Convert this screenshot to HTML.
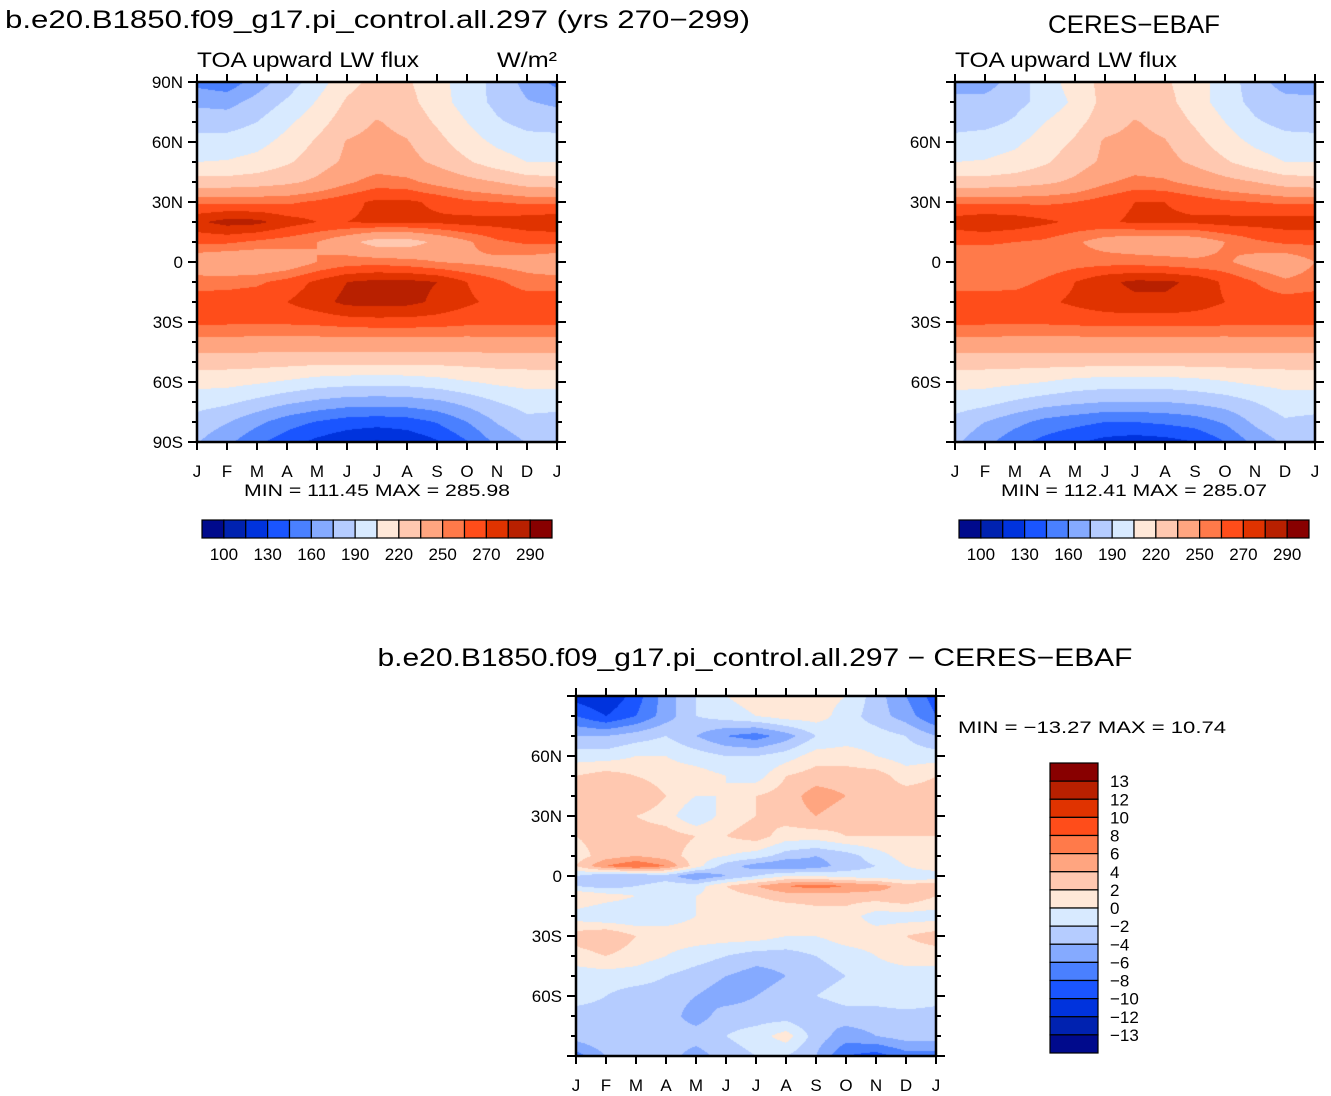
<!DOCTYPE html>
<html><head><meta charset="utf-8">
<style>
html,body{margin:0;padding:0;background:#fff;}
#wrap{position:relative;width:1331px;height:1096px;overflow:hidden;font-family:"Liberation Sans",sans-serif;}
canvas{position:absolute;}
svg{position:absolute;left:0;top:0;}
</style></head>
<body>
<div id="wrap">
<canvas id="c1" width="360" height="360" style="left:197px;top:82px"></canvas>
<canvas id="c2" width="360" height="360" style="left:955px;top:82px"></canvas>
<canvas id="c3" width="360" height="360" style="left:576px;top:696px"></canvas>
<svg id="s" width="1331" height="1096"></svg>
</div>
<script>
const months = ["J","F","M","A","M","J","J","A","S","O","N","D","J"];
const lats10 = [90,80,70,60,50,40,30,20,10,0,-10,-20,-30,-40,-50,-60,-70,-80,-90];
const fluxLevels = [100,115,130,145,160,175,190,205,220,235,250,260,270,280,290];
const fluxLabels = ["100","130","160","190","220","250","270","290"];
const diffLevels = [-13,-12,-10,-8,-6,-4,-2,0,2,4,6,8,10,12,13];
const diffLabels = ["13","12","10","8","6","4","2","0","\u22122","\u22124","\u22126","\u22128","\u221210","\u221212","\u221213"];
const palette = ["#000a8c","#0022b0","#0033dd","#1a55ff","#4a80ff","#85aaff","#b5ccff","#d8eaff","#ffe8d8","#ffc8b0","#ffa580","#ff7a4a","#ff4d1a","#e03300","#b82000","#880000"];
const modelValues = [
[155,150,168,182,198,215,225,222,210,198,185,170,155],
[172,170,180,192,206,222,228,225,212,198,186,176,172],
[183,183,190,202,214,228,236,230,218,205,192,185,183],
[196,196,200,210,222,236,240,236,225,212,202,196,196],
[205,206,210,218,228,238,243,240,232,222,212,205,205],
[226,226,228,232,238,248,255,253,246,240,235,228,226],
[258,258,258,258,262,267,272,272,268,262,260,258,258],
[278,284,283,275,270,270,272,272,272,274,274,276,278],
[262,262,258,255,250,240,228,228,238,248,258,262,262],
[240,236,236,240,250,255,256,254,250,248,246,244,240],
[255,256,258,264,272,280,283,283,280,270,262,255,255],
[266,266,267,270,276,283,284,283,278,272,267,266,266],
[262,262,262,262,263,265,266,266,265,263,262,262,262],
[246,246,245,245,245,245,245,245,245,245,246,246,246],
[226,226,226,225,224,224,224,224,224,225,226,226,226],
[210,210,207,203,198,196,195,196,199,204,208,210,210],
[196,193,186,178,172,168,167,168,172,180,190,196,196],
[184,176,164,152,144,138,136,138,146,160,176,186,184],
[176,164,148,136,126,118,113,118,128,144,164,176,176]];
const ceresValues = [
[168,168,182,198,212,225,225,222,212,198,182,168,165],
[180,180,185,195,208,225,228,225,212,198,185,180,180],
[183,185,192,205,215,228,236,230,218,205,192,185,183],
[196,198,202,212,222,237,240,236,225,212,202,196,196],
[205,206,210,218,228,238,242,240,232,222,212,205,205],
[226,226,228,232,238,248,254,252,246,240,235,228,226],
[258,258,258,258,260,265,270,270,266,262,260,258,258],
[275,278,276,272,268,268,272,272,272,274,274,275,275],
[262,262,260,258,252,244,240,240,242,250,258,262,262],
[250,250,250,252,255,256,256,254,252,252,244,240,250],
[255,255,256,262,270,278,282,282,278,268,260,252,255],
[266,266,266,268,272,276,278,278,275,270,266,265,266],
[262,262,262,262,263,264,264,264,264,263,262,262,262],
[246,246,245,245,245,245,245,245,245,245,246,246,246],
[226,226,226,226,226,226,226,226,226,226,226,226,226],
[210,210,208,205,200,198,198,198,200,204,208,210,210],
[198,195,188,182,178,175,175,175,178,182,190,198,198],
[185,175,165,155,150,145,145,148,152,162,178,188,185],
[178,165,150,140,132,125,122,124,130,145,165,178,178]];
const diffLats = [90,80,70,60,50,40,30,20,10,5,0,-5,-10,-20,-30,-40,-50,-60,-70,-80,-90];
const diffValues = [
[-11,-12,-9,-5,-2,0,1,2,1,0,-3,-6,-9],
[-8,-10,-8,-5,-2,-1,0,1,1,-1,-3,-5,-8],
[-4,-4,-3,-2,-4,-6,-7,-5,-2,-1,-1,-2,-4],
[-1,-1,0,0,-1,-2,-2,-1,1,1,0,-1,-1],
[2,3,2,1,1,0,-1,2,3,3,3,1,2],
[3,4,4,2,0,0,2,3,5,4,3,3,3],
[3,3,2,1,-2,1,2,3,4,3,3,2,3],
[2,3,3,3,2,2,3,1,1,2,2,2,2],
[1,3,4,3,1,0,-1,-3,-4,-3,-1,1,1],
[2,6,8,6,1,-3,-5,-6,-5,-3,-2,0,2],
[-2,-4,-4,-3,-6,-4,-2,0,0,-1,-1,-2,-2],
[-2,-3,-2,-1,-1,2,4,6,7,6,5,3,4],
[2,1,0,0,0,1,2,3,3,3,3,4,2],
[-1,-2,-2,-1,0,1,0,0,1,1,-1,-1,-1],
[3,4,2,1,1,1,1,0,0,1,1,2,3],
[1,2,1,0,-1,-2,-3,-3,-2,-1,0,1,1],
[-1,-1,-1,-2,-3,-4,-5,-4,-3,-2,-1,-1,-1],
[-1,-2,-3,-3,-4,-5,-4,-3,-2,-1,-1,0,-1],
[-3,-3,-2,-3,-5,-3,-3,-3,-4,-3,-3,-3,-3],
[-3,-2,-3,-3,-3,-2,-1,1,-3,-5,-4,-3,-3],
[-7,-4,-3,-3,-5,-3,-2,-2,-4,-8,-9,-7,-7]];

function hex(c){return [parseInt(c.slice(1,3),16),parseInt(c.slice(3,5),16),parseInt(c.slice(5,7),16)];}
const rgb = palette.map(hex);
function levelIndex(v,levels){let i=0;while(i<levels.length&&v>=levels[i])i++;return i;}
function sample(vals,lats,mx,lat){
  let j=Math.min(11,Math.floor(mx)),fx=mx-j;
  let i=0;while(i<lats.length-2&&lat<lats[i+1])i++;
  let fy=(lats[i]-lat)/(lats[i]-lats[i+1]);fy=Math.max(0,Math.min(1,fy));
  const a=vals[i][j],b=vals[i][j+1],c=vals[i+1][j],d=vals[i+1][j+1];
  return (a*(1-fx)+b*fx)*(1-fy)+(c*(1-fx)+d*fx)*fy;
}
function drawField(id,vals,lats,levels){
  const cv=document.getElementById(id),ctx=cv.getContext('2d');
  const W=cv.width,H=cv.height,img=ctx.createImageData(W,H);
  for(let y=0;y<H;y++){const lat=90-(y+0.5)/H*180;
    for(let x=0;x<W;x++){const mx=(x+0.5)/W*12;
      const col=rgb[levelIndex(sample(vals,lats,mx,lat),levels)];
      const k=(y*W+x)*4;img.data[k]=col[0];img.data[k+1]=col[1];img.data[k+2]=col[2];img.data[k+3]=255;}}
  ctx.putImageData(img,0,0);
}
drawField('c1',modelValues,lats10,fluxLevels);
drawField('c2',ceresValues,lats10,fluxLevels);
drawField('c3',diffValues,diffLats,diffLevels);

const NS='http://www.w3.org/2000/svg';
const svg=document.getElementById('s');
function el(tag,attrs,parent){const e=document.createElementNS(NS,tag);for(const k in attrs)e.setAttribute(k,attrs[k]);(parent||svg).appendChild(e);return e;}
function txt(x,y,s,size,anchor,name,len){const t=el('text',{x:x,y:y,'font-size':size,'text-anchor':anchor||'start','font-family':'Liberation Sans, sans-serif',fill:'#000'});
  if(len){t.setAttribute('textLength',len);t.setAttribute('lengthAdjust','spacingAndGlyphs');}
  t.textContent=s;
  
  
  return t;}
function axes(x0,y0,showPoles,labY,name){
  const g=el('g',{});
  
  
  const xs=m=>x0+m*30, ys=l=>y0+(90-l)*2;
  for(let l=-90;l<=90;l+=10){const maj=l%30===0;const L=maj?9:5;
    el('line',{x1:x0-L,x2:x0,y1:ys(l),y2:ys(l),stroke:'#000','stroke-width':2},g);
    el('line',{x1:x0+360,x2:x0+360+L,y1:ys(l),y2:ys(l),stroke:'#000','stroke-width':2},g);
    if(maj&&(showPoles||Math.abs(l)<90)){const s=l===0?'0':(Math.abs(l)+(l>0?'N':'S'));txt(x0-14,ys(l)+6,s,17,'end','y-tick-label',null);}
  }
  months.forEach((m,i)=>{
    el('line',{x1:xs(i),x2:xs(i),y1:y0-8,y2:y0,stroke:'#000','stroke-width':2},g);
    el('line',{x1:xs(i),x2:xs(i),y1:y0+360,y2:y0+368,stroke:'#000','stroke-width':2},g);
    txt(xs(i),labY,m,17,'middle','x-tick-label',null);
  });
  el('rect',{x:x0,y:y0,width:360,height:360,fill:'none',stroke:'#000','stroke-width':2.5},g);
}
axes(197,82,true,477,'model-axes');
axes(955,82,false,477,'ceres-axes');
axes(576,696,false,1091,'diff-axes');

txt(5,28,'b.e20.B1850.f09_g17.pi_control.all.297 (yrs 270\u2212299)',25,'start','model-title',745);
txt(197,67,'TOA upward LW flux',21,'start','model-subtitle',222);
txt(557,67,'W/m\u00b2',21,'end','units-label',60);
txt(1134,33,'CERES\u2212EBAF',25,'middle','ceres-title',172);
txt(955,67,'TOA upward LW flux',21,'start','ceres-subtitle',222);
txt(377,496,'MIN = 111.45 MAX = 285.98',17,'middle','model-minmax',266);
txt(1134,496,'MIN = 112.41 MAX = 285.07',17,'middle','ceres-minmax',266);
txt(755,666,'b.e20.B1850.f09_g17.pi_control.all.297 \u2212 CERES\u2212EBAF',25,'middle','diff-title',755);
txt(958,733,'MIN = \u221213.27 MAX =  10.74',17,'start','diff-minmax',268);

function hbar(x0,y0,w,h,name){
  const g=el('g',{});
  
  
  const bw=w/palette.length;
  palette.forEach((c,i)=>{const r=el('rect',{x:x0+i*bw,y:y0,width:bw,height:h,fill:c,stroke:'#000','stroke-width':1.2},g);
    });
  fluxLabels.forEach((s,k)=>{txt(x0+(2*k+1)*bw,y0+h+22,s,17,'middle','colorbar-label',null);});
}
hbar(202,520,350,18,'model-colorbar');
hbar(959,520,350,18,'ceres-colorbar');
(function(){
  const x0=1050,y0=763,w=48,h=290,n=palette.length,bh=h/n;
  const g=el('g',{});
  
  
  for(let i=0;i<n;i++){const r=el('rect',{x:x0,y:y0+i*bh,width:w,height:bh,fill:palette[n-1-i],stroke:'#000','stroke-width':1.2},g);
    }
  diffLabels.forEach((s,k)=>{txt(x0+60,y0+(k+1)*bh+6,s,17,'start','colorbar-label',null);});
})();
</script>
</body></html>
